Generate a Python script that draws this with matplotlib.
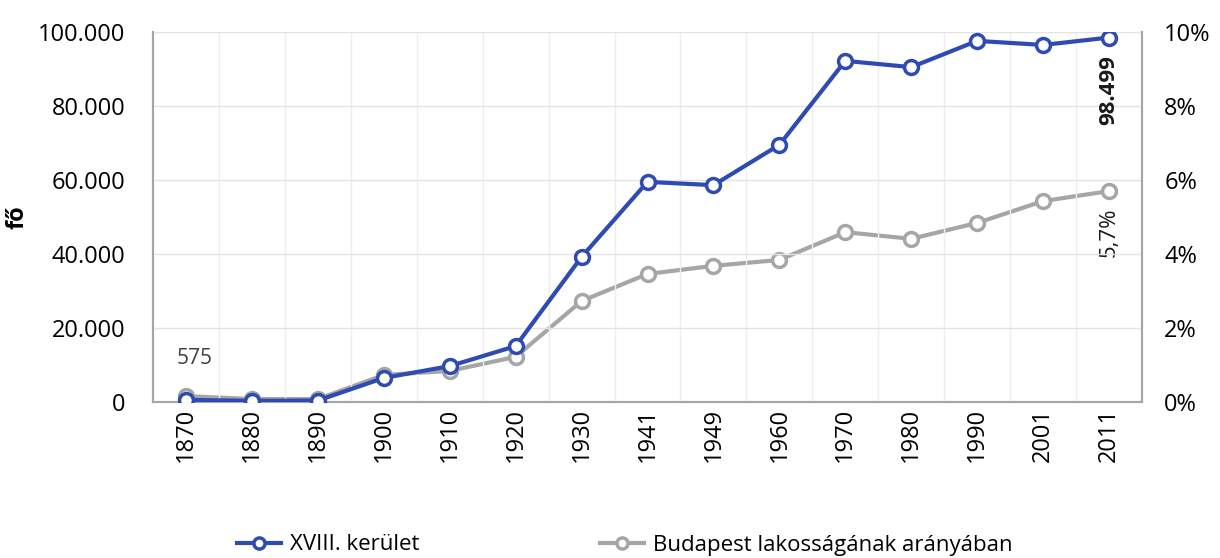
import matplotlib
matplotlib.use("Agg")
import matplotlib.pyplot as plt
from matplotlib.ticker import FuncFormatter

years = ["1870", "1880", "1890", "1900", "1910", "1920", "1930", "1941",
         "1949", "1960", "1970", "1980", "1990", "2001", "2011"]
district = [575, 300, 400, 6500, 9700, 15100, 39200, 59500,
            58600, 69500, 92200, 90500, 97600, 96500, 98499]
share_pct = [0.16, 0.08, 0.08, 0.73, 0.84, 1.22, 2.73, 3.46,
             3.68, 3.84, 4.59, 4.41, 4.84, 5.43, 5.7]
series_names = ["XVIII. kerület", "Budapest lakosságának arányában"]

plt.rcParams['font.family'] = ['Open Sans', 'DejaVu Sans']

blue = "#2E4BB3"
gray = "#A6A6A6"

fig = plt.figure(figsize=(12.2, 5.58), dpi=100)
ax = fig.add_axes([153/1220, 1-402/558, (1142-153)/1220, (402-32)/558])
ax2 = ax.twinx()

x = list(range(len(years)))
l1, = ax.plot(x, district, color=blue, lw=3, marker='o', ms=10,
              mfc='white', mec=blue, mew=2.5, zorder=5, label=series_names[0])
l2, = ax2.plot(x, share_pct, color=gray, lw=3, marker='o', ms=10,
               mfc='white', mec=gray, mew=2.5, zorder=4, label=series_names[1])
ax.set_zorder(ax2.get_zorder() + 1)
ax.patch.set_visible(False)

ax.set_xlim(-0.5, len(years) - 0.5)
ax.set_ylim(0, 100000)
ax2.set_ylim(0, 10)
ax.set_yticks(range(0, 100001, 20000))
ax2.set_yticks(range(0, 11, 2))
ax.yaxis.set_major_formatter(FuncFormatter(lambda v, p: f"{int(v):,}".replace(",", ".")))
ax2.yaxis.set_major_formatter(FuncFormatter(lambda v, p: f"{int(v)}%"))

ax.set_xticks(x)
ax.set_xticklabels(years, rotation=90, fontsize=17)
ax.set_xticks([i - 0.5 for i in range(1, len(years))], minor=True)
ax.tick_params(axis='x', which='both', length=0, pad=4)
ax.tick_params(axis='y', length=0, labelsize=17, pad=20)
ax2.tick_params(axis='y', length=0, labelsize=17, pad=16)

ax2.grid(False)
ax.grid(axis='y', which='major', color='#E3E3E3', lw=1)
ax.grid(axis='x', which='minor', color='#EEEEEE', lw=1)
ax.set_axisbelow(True)

for a in (ax, ax2):
    for s in ['left', 'bottom', 'right']:
        a.spines[s].set_color('#A6A6A6')
        a.spines[s].set_linewidth(1.5)
    a.spines['top'].set_visible(False)

ax.set_ylabel("fő", fontsize=17, fontweight='bold', labelpad=6)

ax.annotate(f"{district[0]}", (x[0], district[0]), xytext=(6.5, 30),
            textcoords='offset points', ha='center', va='center', fontsize=15,
            color='#404040')
ax.annotate(f"{district[-1]:,}".replace(",", "."), (x[-1], district[-1]),
            xytext=(0, -13), textcoords='offset points', ha='center', va='top',
            rotation=90, fontsize=16, fontweight='bold', color='#1a1a1a')
ax2.annotate(f"{share_pct[-1]:.1f}%".replace(".", ","), (x[-1], share_pct[-1]),
             xytext=(0, -12), textcoords='offset points', ha='center', va='top',
             rotation=90, fontsize=16, color='#1a1a1a', zorder=10)

fig.legend(handles=[l1, l2], loc='center left', bbox_to_anchor=(217/1220, 1-545/558),
           ncol=2, frameon=False, fontsize=16, columnspacing=8.1,
           handlelength=2.0, handletextpad=0.4, markerscale=0.8)

fig.savefig("out.png", dpi=100)
